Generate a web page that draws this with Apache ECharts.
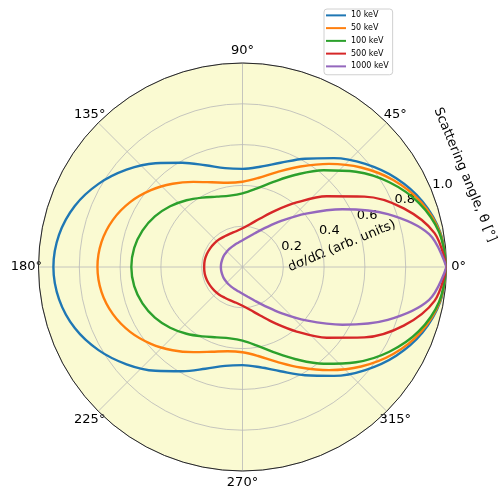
<!DOCTYPE html>
<html>
<head>
<meta charset="utf-8">
<script src="https://cdn.jsdelivr.net/npm/echarts@6/dist/echarts.min.js"></script>
<style>
  html, body { margin: 0; padding: 0; background: #ffffff; }
  #chart { width: 499px; height: 489px; }
</style>
</head>
<body>
<div id="chart"></div>
<script>
// Scattering angle samples (degrees)
const angles = [0, 10, 20, 30, 40, 50, 60, 70, 80, 90, 100, 110, 120, 130, 140, 150, 160, 170, 180,
                190, 200, 210, 220, 230, 240, 250, 260, 270, 280, 290, 300, 310, 320, 330, 340, 350, 360];

// Relative differential cross section dσ/dΩ for each photon energy
const kev10 = [1.000, 0.984, 0.939, 0.870, 0.786, 0.697, 0.613, 0.544, 0.499, 0.481, 0.492, 0.531, 0.590, 0.664, 0.742, 0.815, 0.875, 0.913, 0.927,
               0.913, 0.875, 0.815, 0.742, 0.664, 0.590, 0.531, 0.492, 0.481, 0.499, 0.544, 0.613, 0.697, 0.786, 0.870, 0.939, 0.984, 1.000];
const kev50 = [1.000, 0.982, 0.931, 0.853, 0.759, 0.660, 0.569, 0.495, 0.443, 0.418, 0.419, 0.442, 0.482, 0.533, 0.586, 0.636, 0.676, 0.702, 0.711,
               0.702, 0.676, 0.636, 0.586, 0.533, 0.482, 0.442, 0.419, 0.418, 0.443, 0.495, 0.569, 0.660, 0.759, 0.853, 0.931, 0.982, 1.000];
const kev100 = [1.000, 0.979, 0.920, 0.831, 0.726, 0.619, 0.522, 0.444, 0.390, 0.361, 0.355, 0.367, 0.393, 0.427, 0.463, 0.496, 0.522, 0.539, 0.545,
                0.539, 0.522, 0.496, 0.463, 0.427, 0.393, 0.367, 0.355, 0.361, 0.390, 0.444, 0.522, 0.619, 0.726, 0.831, 0.920, 0.979, 1.000];
const kev500 = [1.000, 0.956, 0.841, 0.690, 0.539, 0.413, 0.318, 0.253, 0.213, 0.190, 0.178, 0.174, 0.174, 0.177, 0.180, 0.183, 0.186, 0.188, 0.188,
                0.188, 0.186, 0.183, 0.180, 0.177, 0.174, 0.174, 0.178, 0.190, 0.213, 0.253, 0.318, 0.413, 0.539, 0.690, 0.841, 0.956, 1.000];
const kev1000 = [1.000, 0.929, 0.758, 0.566, 0.407, 0.295, 0.221, 0.176, 0.148, 0.131, 0.121, 0.115, 0.111, 0.109, 0.107, 0.107, 0.106, 0.106, 0.106,
                 0.106, 0.106, 0.107, 0.107, 0.109, 0.111, 0.115, 0.121, 0.131, 0.148, 0.176, 0.221, 0.295, 0.407, 0.566, 0.758, 0.929, 1.000];

const energyNames = ['10 keV', '50 keV', '100 keV', '500 keV', '1000 keV'];
const seriesValues = [kev10, kev50, kev100, kev500, kev1000];
const colors = ['#1f77b4', '#ff7f0e', '#2ca02c', '#d62728', '#9467bd'];

// Tick labels
const angleTicks = [0, 45, 90, 135, 180, 225, 270, 315];
const radialTicks = [0.2, 0.4, 0.6, 0.8, 1.0];

const FONT = '"DejaVu Sans", sans-serif';
const CENTER = [242.5, 267];
const RADIUS = 204;

const chart = echarts.init(document.getElementById('chart'), null, { renderer: 'canvas' });

const hiddenAxisParts = {
  axisLine: { show: false }, axisTick: { show: false }, axisLabel: { show: false }, splitLine: { show: false }
};

const option = {
  animation: false,
  backgroundColor: '#ffffff',
  // polar 0: pale background disc; polar 1: grid, frame and data
  polar: [
    { center: CENTER, radius: RADIUS },
    { center: CENTER, radius: RADIUS }
  ],
  angleAxis: [
    Object.assign({
      polarIndex: 0, type: 'value', min: 0, max: 360, interval: 45, startAngle: 0, clockwise: false, z: 0,
      splitArea: { show: true, areaStyle: { color: ['#fafad2'] } }
    }, hiddenAxisParts),
    {
      polarIndex: 1, type: 'value', min: 0, max: 360, interval: 45, startAngle: 0, clockwise: false, z: 1,
      axisLine: { show: true, lineStyle: { color: '#262626', width: 1 } },
      axisTick: { show: false },
      axisLabel: { show: false },
      splitLine: { show: true, lineStyle: { color: '#b8b8b8', width: 0.8 } },
      splitArea: { show: false }
    }
  ],
  radiusAxis: [
    Object.assign({ polarIndex: 0, type: 'value', min: 0, max: 1, interval: 0.2, z: 0 }, hiddenAxisParts),
    {
      polarIndex: 1, type: 'value', min: 0, max: 1, interval: 0.2, z: 1,
      axisLine: { show: false },
      axisTick: { show: false },
      axisLabel: { show: false },
      splitLine: { show: true, lineStyle: { color: '#b8b8b8', width: 0.8 } }
    }
  ],
  legend: {
    orient: 'vertical', left: 324, top: 9,
    icon: 'rect', itemWidth: 20, itemHeight: 2, itemGap: 0,
    padding: [0, 4, 2, 2],
    backgroundColor: '#ffffff', borderColor: '#d0d0d0', borderWidth: 1, borderRadius: 3,
    textStyle: { fontSize: 8, lineHeight: 12.75, color: '#000000', fontFamily: FONT },
    data: energyNames
  },
  series: energyNames.map((name, i) => ({
    type: 'line', name: name, coordinateSystem: 'polar', polarIndex: 1,
    showSymbol: false, symbol: 'none', smooth: 0.35,
    data: angles.map((a, j) => [seriesValues[i][j], a]),
    lineStyle: { width: 2.4, color: colors[i] },
    itemStyle: { color: colors[i] }
  }))
};
chart.setOption(option);

// Place angular and radial tick labels and the axis titles using the polar scale
const toPx = (r, a) => chart.convertToPixel({ seriesIndex: 0 }, [r, a]);
const graphics = [];
angleTicks.forEach(a => {
  const p = toPx(1.059, a);
  graphics.push({ type: 'text', x: p[0], y: p[1], silent: true,
    style: { text: a + '°', font: '13px ' + FONT, fill: '#000', align: 'center', verticalAlign: 'middle' } });
});
radialTicks.forEach(r => {
  const p = toPx(r + 0.061, 22.5);
  graphics.push({ type: 'text', x: p[0], y: p[1], silent: true,
    style: { text: r.toFixed(1), font: '13px ' + FONT, fill: '#000', align: 'center', verticalAlign: 'middle' } });
});
const rTitle = toPx(0.4985, 11.9);
graphics.push({ type: 'text', x: rTitle[0], y: rTitle[1], rotation: 22.5 * Math.PI / 180, silent: true,
  style: { text: 'dσ/dΩ (arb. units)', font: '13px ' + FONT, fill: '#000', align: 'center', verticalAlign: 'middle' } });
const aTitle = toPx(1.18, 22.5);
graphics.push({ type: 'text', x: aTitle[0], y: aTitle[1], rotation: -67.5 * Math.PI / 180, silent: true,
  style: { text: 'Scattering angle, θ [°]', font: '13px ' + FONT, fill: '#000', align: 'center', verticalAlign: 'middle' } });

chart.setOption({ graphic: graphics });
</script>
</body>
</html>
